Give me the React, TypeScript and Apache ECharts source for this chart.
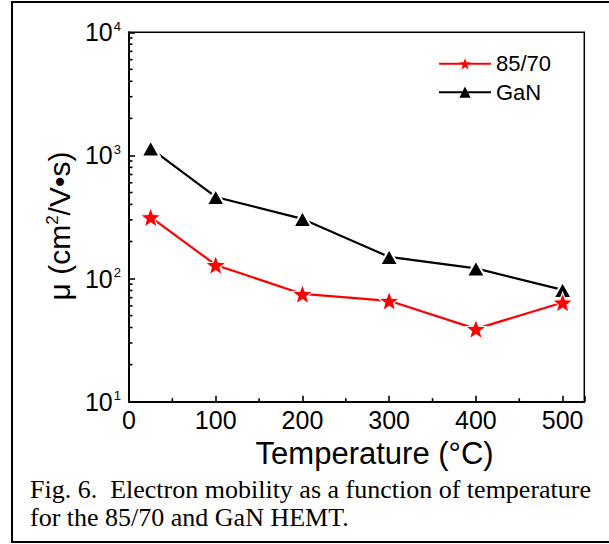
import React, { useEffect, useRef } from 'react';
import * as echarts from 'echarts';

// Measured electron mobility (cm²/V·s) versus temperature (°C)
const temperatures = [25, 100, 200, 300, 400, 500];
const mobility8570 = [315, 129, 75, 66, 39, 64];
const mobilityGaN = [1140, 460, 305, 150, 121, 81];

// Axis ticks
const xMajorTicks = [0, 100, 200, 300, 400, 500];
const xMinorTicks = [50, 150, 250, 350, 450];
const yMinorTicks = [
  20, 30, 40, 50, 60, 70, 80, 90,
  200, 300, 400, 500, 600, 700, 800, 900,
  2000, 3000, 4000, 5000, 6000, 7000, 8000, 9000,
];

const captionLines = [
  'Fig. 6.  Electron mobility as a function of temperature',
  'for the 85/70 and GaN HEMT.',
];

const SANS = '"Liberation Sans", Arial, Helvetica, sans-serif';
const SERIF = '"Liberation Serif", "Times New Roman", Times, serif';

// Five-pointed star marker
const STAR =
  'path://M50,0L62.34,33.01L97.55,34.55L69.97,56.49L79.39,90.45L50,71L20.61,90.45L30.03,56.49L2.45,34.55L37.66,33.01Z';

export default function App() {
  const ref = useRef<HTMLDivElement>(null);

  useEffect(() => {
    if (!ref.current) return;
    const chart = echarts.init(ref.current, undefined, { renderer: 'svg' });

    const option: any = {
      animation: false,
      backgroundColor: '#fff',
      grid: {
        left: 129,
        top: 32.3,
        right: 24.7,
        bottom: 142.3,
        show: true,
        borderColor: '#000',
        borderWidth: 1.5,
        backgroundColor: 'transparent',
      },
      legend: {
        orient: 'vertical',
        left: 438,
        top: 52.8,
        padding: 0,
        itemWidth: 52,
        itemHeight: 14,
        itemGap: 6.4,
        selectedMode: false,
        itemStyle: { borderWidth: 0 },
        textStyle: { fontSize: 22, lineHeight: 21, color: '#000', fontFamily: SANS },
        data: ['85/70', 'GaN'],
      },
      xAxis: {
        type: 'value',
        min: 0,
        max: 525,
        interval: 100,
        position: 'bottom',
        axisLine: { show: true, onZero: false, lineStyle: { color: '#000', width: 2 } },
        axisTick: { show: true, inside: true, length: 6, lineStyle: { color: '#000', width: 1.6 } },
        axisLabel: { customValues: xMajorTicks, fontSize: 25, color: '#000', fontFamily: SANS, margin: 6 },
        splitLine: { show: false },
        name: 'Temperature (°C)',
        nameLocation: 'middle',
        nameGap: 33,
        nameTextStyle: { fontSize: 31, color: '#000', fontFamily: SANS, padding: [0, 0, 0, 36] },
      },
      yAxis: {
        type: 'log',
        logBase: 10,
        min: 10,
        max: 10000,
        position: 'left',
        axisLine: { show: true, onZero: false, lineStyle: { color: '#000', width: 2 } },
        axisTick: { show: true, inside: true, length: 6, lineStyle: { color: '#000', width: 1.6 } },
        axisLabel: {
          margin: 8,
          formatter: (v: number) => `{b|10}{s|${Math.round(Math.log10(v))}}`,
          rich: {
            b: { fontSize: 25, color: '#000', fontFamily: SANS },
            s: { fontSize: 13, color: '#000', fontFamily: SANS, padding: [0, 0, 12, 1] },
          },
        },
        splitLine: { show: false },
        name: '{t|μ (cm}{s|2}{t|/V•s)}',
        nameLocation: 'middle',
        nameGap: 48,
        nameTextStyle: {
          padding: [0, 18, 0, 0],
          rich: {
            t: { fontSize: 30, color: '#000', fontFamily: SANS },
            s: { fontSize: 17, color: '#000', fontFamily: SANS, padding: [0, 0, 14, 0] },
          },
        },
      },
      series: [
        {
          // minor ticks on the log axis (2..9 of each decade)
          type: 'custom',
          silent: true,
          data: yMinorTicks.map((v) => [0, v]),
          renderItem: (_p: any, api: any) => {
            const pt = api.coord([api.value(0), api.value(1)]);
            return {
              type: 'line',
              shape: { x1: pt[0], y1: pt[1], x2: pt[0] + 3.5, y2: pt[1] },
              style: { stroke: '#000', lineWidth: 1.6 },
            };
          },
          z: 1,
        },
        {
          // minor ticks on the temperature axis
          type: 'custom',
          silent: true,
          data: xMinorTicks.map((v) => [v, 10]),
          renderItem: (_p: any, api: any) => {
            const pt = api.coord([api.value(0), api.value(1)]);
            return {
              type: 'line',
              shape: { x1: pt[0], y1: pt[1], x2: pt[0], y2: pt[1] - 3.5 },
              style: { stroke: '#000', lineWidth: 1.6 },
            };
          },
          z: 1,
        },
        {
          name: '85/70',
          type: 'line',
          data: temperatures.map((t, i) => [t, mobility8570[i]]),
          symbol: STAR,
          symbolSize: [21, 20],
          lineStyle: { color: '#ff0000', width: 2.2 },
          itemStyle: { color: '#ff0000', borderColor: '#fff', borderWidth: 1.2 },
          z: 3,
        },
        {
          name: 'GaN',
          type: 'line',
          data: temperatures.map((t, i) => [t, mobilityGaN[i]]),
          symbol: 'triangle',
          symbolSize: [18, 16],
          lineStyle: { color: '#000', width: 2.2 },
          itemStyle: { color: '#000', borderColor: '#fff', borderWidth: 2 },
          z: 2,
        },
      ],
      graphic: [
        {
          type: 'rect',
          shape: { x: 12, y: 2, width: 605, height: 540 },
          style: { fill: 'none', stroke: '#000', lineWidth: 2 },
          silent: true,
          z: 100,
        },
        ...captionLines.map((line, i) => ({
          type: 'text',
          x: 30,
          y: 489 + i * 28.5,
          style: {
            text: line,
            font: `26px ${SERIF}`,
            fill: '#000',
            verticalAlign: 'middle',
            align: 'left',
          },
          silent: true,
        })),
      ],
    };

    chart.setOption(option);
    return () => chart.dispose();
  }, []);

  return (
    <div
      ref={ref}
      style={{ position: 'absolute', left: 0, top: 0, width: 609, height: 544 }}
    />
  );
}
